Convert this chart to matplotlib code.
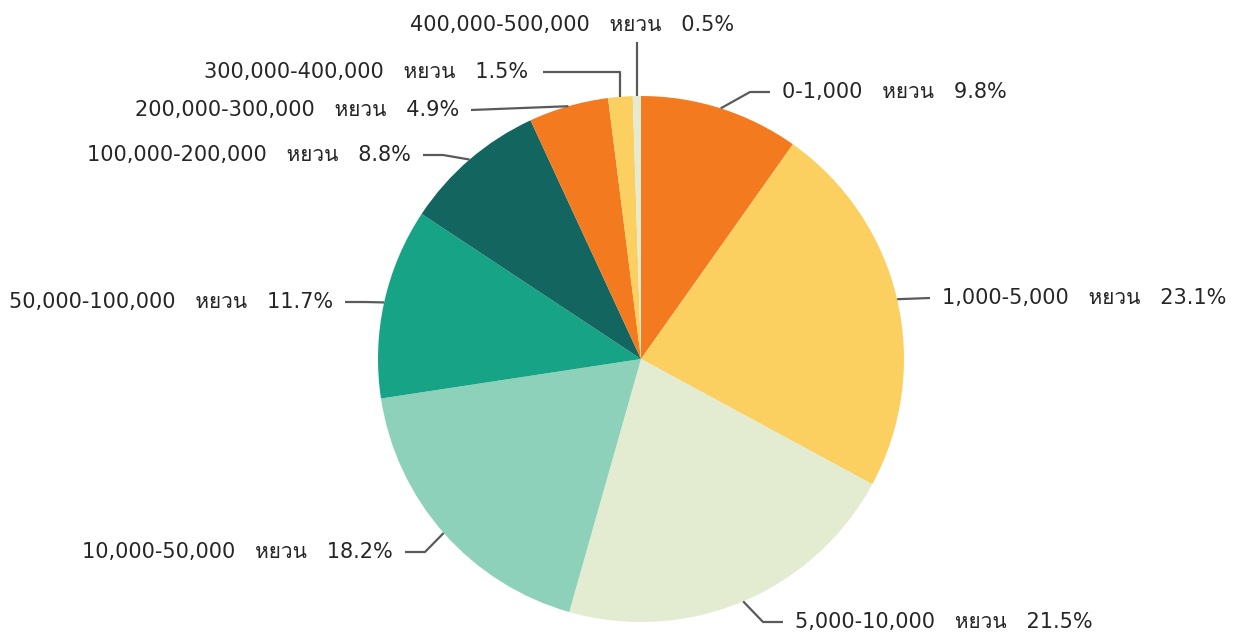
import matplotlib
matplotlib.use("Agg")
import matplotlib.pyplot as plt
import numpy as np
from matplotlib import font_manager
from matplotlib.ft2font import FT2Font

# Share of accounts by balance range (yuan)
ranges = ["0-1,000", "1,000-5,000", "5,000-10,000", "10,000-50,000",
          "50,000-100,000", "100,000-200,000", "200,000-300,000",
          "300,000-400,000", "400,000-500,000"]
shares = [9.8, 23.1, 21.5, 18.2, 11.7, 8.8, 4.9, 1.5, 0.5]
colors = ["#F47A20", "#FBCF60", "#E3EBD1", "#8ED1BB", "#17A386",
          "#136660", "#F47A20", "#FBCF60", "#E3EBD1"]
unit = "หยวน"

W, H = 1237, 635

# label placement in pixels from the top-left: x, y, alignment, leader style
label_pos = [(782, 92, "left", "h"), (942, 298, "left", "s"),
             (795, 622, "left", "h"), (393, 552, "right", "h"),
             (333, 302, "right", "h"), (411, 155, "right", "h"),
             (459, 110, "right", "s"), (528, 72, "right", "v"),
             (572, 25, "center", "up")]


def thai_family():
    # first installed family that has Thai glyphs
    for f in font_manager.fontManager.ttflist:
        try:
            if 0x0E2B in FT2Font(f.fname).get_charmap():
                return f.name
        except Exception:
            pass
    return None


fam = ["DejaVu Sans"]
th = thai_family()
if th:
    fam.append(th)
plt.rcParams["font.family"] = fam

fig = plt.figure(figsize=(W / 100, H / 100), dpi=100)
ax = fig.add_axes([0, 0, 1, 1])

cx, cy, r = 641, H - 359, 263
wedges, _ = ax.pie(shares, colors=colors, startangle=90, counterclock=False,
                   center=(cx, cy), radius=r, wedgeprops=dict(linewidth=0))

ax.set_xlim(0, W)
ax.set_ylim(0, H)
ax.set_aspect("equal")
ax.axis("off")

line_kw = dict(color="#5a5a5a", lw=1.6, solid_capstyle="butt", zorder=1)
for w, rng, pct, (tx, ty, ha, style) in zip(wedges, ranges, shares, label_pos):
    mid = np.deg2rad((w.theta1 + w.theta2) / 2)
    px, py = cx + r * np.cos(mid), cy + r * np.sin(mid)
    ty = H - ty
    if style == "up":
        xs, ys = [px, px], [py, ty - 17]
    elif style == "v":
        xs, ys = [tx + 15, px, px], [ty, ty, py]
    else:
        sign = -1 if ha == "left" else 1
        tail = tx + sign * 12
        stub = 20 if style == "h" else 0
        xs, ys = [tail, tail + sign * stub, px], [ty, ty, py]
    ax.plot(xs, ys, **line_kw)
    ax.text(tx, ty, f"{rng}   {unit}   {pct}%", ha=ha, va="center",
            fontsize=15, color="#262626")

fig.savefig("out.png", dpi=100)
